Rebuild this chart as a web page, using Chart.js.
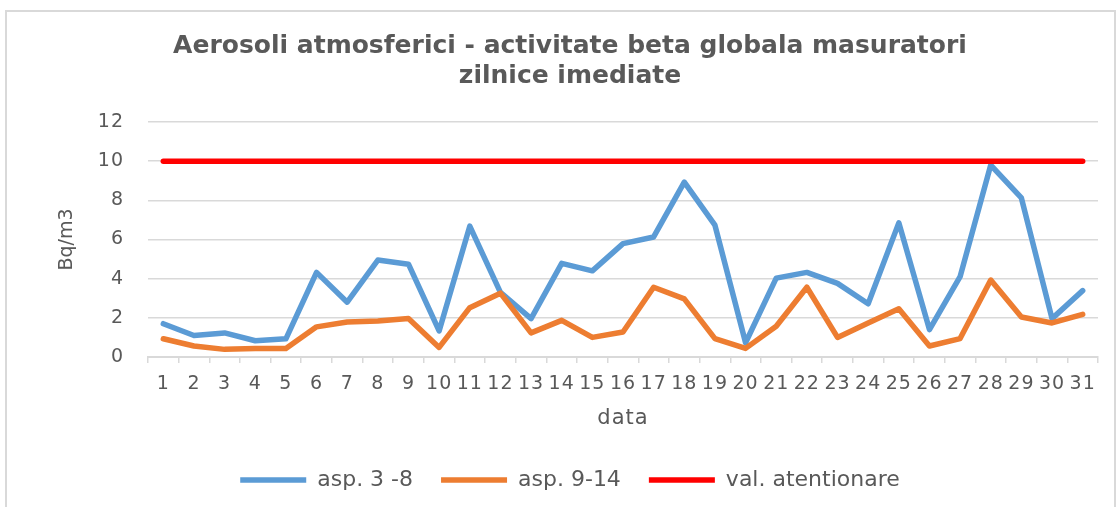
<!DOCTYPE html>
<html><head><meta charset="utf-8">
<script src="https://cdn.jsdelivr.net/npm/chart.js@4/dist/chart.umd.min.js"></script>
<style>
html,body{margin:0;padding:0;background:#fff;}
#wrap{position:relative;width:1119px;height:507px;overflow:hidden;}
#frame{position:absolute;left:5px;top:10px;width:1111px;height:520px;border:2px solid #d9d9d9;box-sizing:border-box;}
#wrap canvas{position:absolute;left:0;top:0;}
</style></head><body>
<div id="wrap"><div id="frame"></div><canvas id="c"></canvas></div>
<script>
const categories = ['1','2','3','4','5','6','7','8','9','10','11','12','13','14','15','16','17','18','19','20','21','22','23','24','25','26','27','28','29','30','31'];
const asp3_8 = [1.7,1.1,1.23,0.83,0.93,4.32,2.8,4.95,4.74,1.33,6.68,3.3,1.96,4.78,4.4,5.79,6.13,8.93,6.73,0.73,4.03,4.32,3.76,2.72,6.85,1.4,4.1,9.8,8.12,1.96,3.39];
const asp9_14 = [0.93,0.56,0.39,0.44,0.44,1.54,1.79,1.84,1.96,0.49,2.52,3.26,1.23,1.87,1.0,1.28,3.56,2.97,0.94,0.44,1.57,3.56,1.0,1.74,2.46,0.56,0.94,3.93,2.04,1.74,2.18];
const valAtentionare = [10,10,10,10,10,10,10,10,10,10,10,10,10,10,10,10,10,10,10,10,10,10,10,10,10,10,10,10,10,10,10];
const yTicks = [0,2,4,6,8,10,12];
const seriesNames = ['asp. 3 -8','asp. 9-14','val. atentionare'];
const titleLines = ['Aerosoli atmosferici - activitate beta globala masuratori','zilnice imediate'];
const yTitle = 'Bq/m3';
const xTitle = 'data';

const TXT = '#595959';
const FONT = 'DejaVu Sans';

const spacingPlugin = {
  id: 'spacing',
  beforeDraw(chart) {
    const conf = {x: {labels: '1px', title: '1px'}, y: {labels: '1px', title: '0px'}};
    for (const id of Object.keys(conf)) {
      const s = chart.scales[id];
      if (!s || s.__patched) continue;
      s.__patched = true;
      const dl = s.drawLabels.bind(s), dt = s.drawTitle.bind(s);
      s.drawLabels = function (a) { const c = this.ctx; const o = c.letterSpacing; c.letterSpacing = conf[id].labels; dl(a); c.letterSpacing = o || '0px'; };
      s.drawTitle = function (a) { const c = this.ctx; const o = c.letterSpacing; c.letterSpacing = conf[id].title; dt(a); c.letterSpacing = o || '0px'; };
    }
  }
};

const common = {fill: false, tension: 0, borderWidth: 5.5, pointRadius: 0, pointHoverRadius: 0, borderCapStyle: 'round', borderJoinStyle: 'round'};

new Chart(document.getElementById('c'), {
  type: 'line',
  data: {
    labels: categories,
    datasets: [
      Object.assign({label: seriesNames[0], data: asp3_8, borderColor: '#5b9bd5', backgroundColor: '#5b9bd5', order: 3}, common),
      Object.assign({label: seriesNames[1], data: asp9_14, borderColor: '#ed7d31', backgroundColor: '#ed7d31', order: 2}, common),
      Object.assign({label: seriesNames[2], data: valAtentionare, borderColor: '#ff0000', backgroundColor: '#ff0000', order: 1}, common)
    ]
  },
  plugins: [spacingPlugin],
  options: {
    responsive: true,
    maintainAspectRatio: false,
    animation: false,
    devicePixelRatio: 1,
    layout: {padding: {left: 31, right: 10, top: 10, bottom: 6}},
    plugins: {
      title: {
        display: true,
        text: titleLines,
        color: TXT,
        font: {family: FONT, size: 25, weight: 'bold', lineHeight: 1.2},
        padding: {top: 21, bottom: 31}
      },
      legend: {
        position: 'bottom',
        labels: {
          color: TXT,
          font: {family: FONT, size: 22},
          usePointStyle: true,
          pointStyle: 'line',
          pointStyleWidth: 66,
          padding: 28,
          sort: (a, b) => a.datasetIndex - b.datasetIndex
        }
      },
      tooltip: {enabled: false}
    },
    scales: {
      x: {
        offset: true,
        grid: {offset: true, drawOnChartArea: false, drawTicks: true, tickLength: 6, color: '#d9d9d9', lineWidth: 1.5},
        border: {display: true, color: '#d9d9d9', width: 2},
        ticks: {color: TXT, font: {family: FONT, size: 19}, autoSkip: false, maxRotation: 0, minRotation: 0, padding: 10},
        title: {display: true, text: xTitle, color: TXT, font: {family: FONT, size: 21}, padding: {top: 0, bottom: 10}},
        afterFit: (s) => { s.height = 84; }
      },
      y: {
        min: yTicks[0],
        max: yTicks[yTicks.length - 1],
        ticks: {stepSize: yTicks[1] - yTicks[0], color: TXT, font: {family: FONT, size: 19}, padding: 24},
        grid: {color: '#d9d9d9', lineWidth: 1.5, drawTicks: false},
        border: {display: false},
        title: {display: true, text: yTitle, color: TXT, font: {family: FONT, size: 19}, padding: {top: 25, bottom: 0}},
        afterFit: (s) => { s.width = 117; }
      },
      yR: {
        position: 'right',
        display: true,
        grid: {display: false},
        border: {display: false},
        ticks: {display: false},
        afterFit: (s) => { s.width = 11; }
      }
    }
  }
});
</script>
</body></html>
